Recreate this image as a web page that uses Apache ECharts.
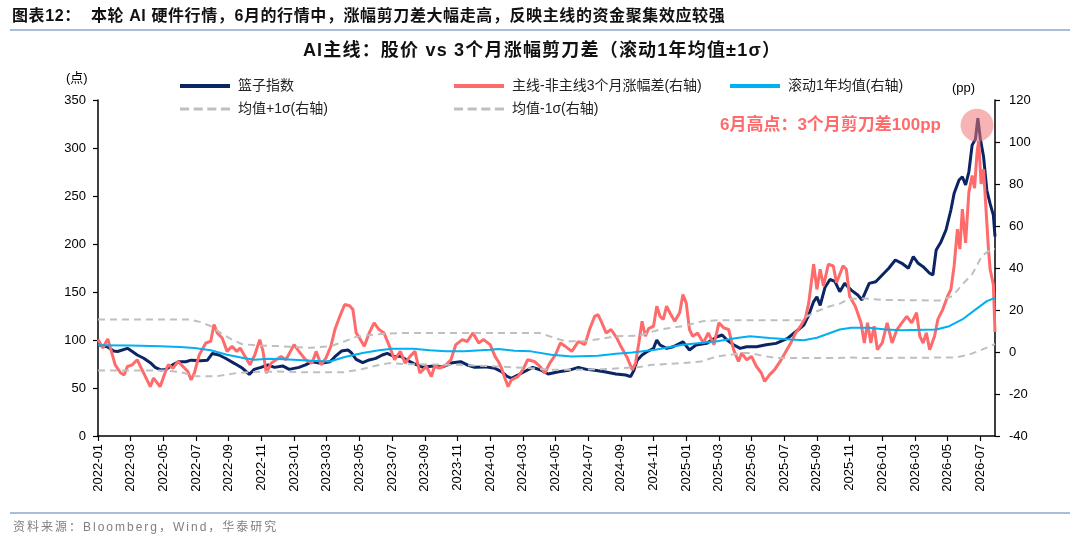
<!DOCTYPE html>
<html lang="zh-CN">
<head>
  <meta charset="UTF-8">
  <title>AI主线：股价 vs 3个月涨幅剪刀差</title>
  <script src="https://cdn.jsdelivr.net/npm/echarts@6/dist/echarts.min.js"></script>
  <style>
    body { margin: 0; padding: 0; background: #fff; }
    #wrap { position: relative; width: 1080px; height: 539px; overflow: hidden;
            font-family: 'Liberation Sans', Arial, 'Noto Sans CJK SC', sans-serif; }
    #chart { position: absolute; left: 0; top: 0; width: 1080px; height: 539px; }
    .head { position: absolute; left: 12px; top: 6px; font-size: 16px; font-weight: bold;
            line-height: 20px; color: #111; letter-spacing: 0.6px; white-space: nowrap; }
    .ctitle { position: absolute; left: 0; width: 1084px; top: 39px; text-align: center;
              font-size: 18px; font-weight: bold; line-height: 22px; color: #111;
              letter-spacing: 1.2px; white-space: nowrap; }
    .rule { position: absolute; left: 10px; width: 1060px; height: 2px; background: #a9bdd8; }
    .foot { position: absolute; left: 13px; top: 519px; font-size: 12px; line-height: 16px;
            color: #808080; letter-spacing: 2px; white-space: nowrap; }
  </style>
</head>
<body>
<div id="wrap">
  <div id="chart"></div>
  <div class="head">图表12：&nbsp;&nbsp;本轮 AI 硬件行情，6月的行情中，涨幅剪刀差大幅走高，反映主线的资金聚集效应较强</div>
  <div class="rule" style="top:29px"></div>
  <div class="ctitle">AI主线：股价 vs 3个月涨幅剪刀差（滚动1年均值±1σ）</div>
  <div class="rule" style="top:512px"></div>
  <div class="foot">资料来源：Bloomberg，Wind，华泰研究</div>
</div>
<script>
  const FONT = "'Liberation Sans', Arial, 'Noto Sans CJK SC', sans-serif";

  // x 轴刻度（每两个月一个），x 值为自 2022-01 起的月数
  const monthTicks = [
    '2022-01', '2022-03', '2022-05', '2022-07', '2022-09', '2022-11',
    '2023-01', '2023-03', '2023-05', '2023-07', '2023-09', '2023-11',
    '2024-01', '2024-03', '2024-05', '2024-07', '2024-09', '2024-11',
    '2025-01', '2025-03', '2025-05', '2025-07', '2025-09', '2025-11',
    '2026-01', '2026-03', '2026-05', '2026-07'
  ];

  // 篮子指数（左轴，点）
  const basket = [
    [0, 95], [0.57, 93], [0.96, 88.5], [1.2, 88], [1.8, 91.3], [2.1, 88], [2.4, 84.4], [2.8, 81],
    [3.2, 76.4], [3.5, 71.5], [3.84, 68.8], [4.15, 69.4], [4.56, 74], [4.96, 77.4], [5.37, 77.4],
    [5.7, 79], [6.3, 78.5], [6.7, 79], [7.0, 86], [7.4, 84.4], [7.8, 81], [8.34, 75.7], [8.85, 70.5],
    [9.26, 64.2], [9.56, 69.4], [9.97, 71.5], [10.4, 74], [10.8, 71.5], [11.3, 73], [11.7, 69.4],
    [12.3, 71.5], [12.7, 74], [13.1, 77.4], [13.65, 75.7], [14.2, 77.4], [14.5, 82.6], [14.9, 88.5],
    [15.3, 89.6], [15.5, 86.8], [15.8, 79.9], [16.2, 76.4], [16.6, 79.2], [17.0, 80.9], [17.4, 84.4],
    [17.7, 86.1], [18.15, 82.6], [18.5, 83.3], [18.9, 79.2], [19.3, 75.7], [19.9, 71.5], [20.5, 72.9],
    [21.1, 72], [21.7, 76.4], [22.2, 77.4], [22.6, 74], [23.05, 71.5], [23.7, 72], [24.3, 70.5],
    [24.7, 67], [25.0, 62.5], [25.3, 60], [25.7, 63.5], [26.2, 68], [26.6, 71.5], [27.05, 69],
    [27.55, 64.6], [28.2, 67], [28.8, 68.4], [29.4, 71.5], [29.9, 69.4], [30.4, 68.4], [31.0, 67],
    [31.7, 64.6], [32.3, 63.5], [32.6, 61.8], [32.8, 68.4], [33.0, 79], [33.3, 84.4], [33.6, 87.8],
    [34.0, 91.3], [34.2, 100], [34.4, 94.8], [34.8, 91.3], [35.2, 93], [35.8, 98.2], [36.2, 89.6],
    [36.6, 94.8], [37.25, 96.5], [37.9, 103.4], [38.2, 105.2], [38.5, 100], [38.9, 95], [39.3, 91.3],
    [39.7, 93], [40.3, 93], [40.9, 95], [41.5, 96.5], [42.2, 101.7], [42.7, 108.6], [43.2, 115.6],
    [43.5, 126], [43.8, 140], [44.0, 145], [44.2, 136], [44.5, 155], [44.8, 163], [45.1, 161],
    [45.4, 150.3], [45.7, 159], [46.1, 152], [46.5, 146.9], [46.76, 141.7], [47.2, 159], [47.6, 160.7],
    [48.0, 167.7], [48.4, 174.7], [48.8, 183.3], [49.2, 179.9], [49.6, 174.7], [49.9, 186.8],
    [50.2, 179.9], [50.5, 176.4], [50.9, 169.5], [51.1, 167.7], [51.3, 193.8], [51.6, 202.4],
    [51.9, 214.6], [52.2, 235.4], [52.4, 252.8], [52.7, 266.7], [52.9, 270], [53.1, 261.5],
    [53.3, 275], [53.5, 303], [53.7, 309], [53.85, 331], [54.0, 310], [54.2, 291], [54.4, 256],
    [54.6, 242], [54.8, 230], [54.9, 207.6]
  ];

  // 主线-非主线3个月涨幅差（右轴，pp）
  const spread = [
    [0, 5.9], [0.3, 1.9], [0.5, 4.9], [0.6, 6.2], [0.85, -0.5], [1.05, -6.1], [1.39, -10], [1.6, -10.9],
    [1.8, -6.9], [2.1, -6.1], [2.4, -3.7], [2.7, -8.5], [3.0, -13.3], [3.2, -16.5], [3.4, -12.4],
    [3.8, -16.5], [4.1, -10], [4.3, -6.1], [4.6, -7.7], [4.9, -4.5], [5.2, -6.9], [5.5, -9.3],
    [5.7, -13.3], [5.9, -10], [6.2, -1.3], [6.6, 4.3], [6.9, 5.1], [7.1, 13.1], [7.3, 9.1], [7.6, 6.7],
    [7.9, 0.3], [8.2, 2.7], [8.5, 0.3], [8.7, 1.9], [9.0, -2.1], [9.3, -6.1], [9.6, -1.3], [9.9, 5.9],
    [10.1, 0.3], [10.3, -10], [10.6, -5.3], [10.9, -3.7], [11.2, -2.1], [11.5, -3.7], [12.0, 3.5],
    [12.3, 0.3], [12.7, -3.7], [13.1, -5.3], [13.35, 0.3], [13.65, -6.1], [13.95, -2.9], [14.25, 2.7],
    [14.5, 10.7], [14.8, 17], [15.1, 22.6], [15.4, 22], [15.6, 20.2], [15.8, 9.1], [16.0, 6.7],
    [16.3, 2.7], [16.6, 9.1], [16.9, 13.9], [17.2, 10.7], [17.5, 9.1], [17.8, 3.5], [18.15, -3.7],
    [18.5, 0.3], [18.8, -5.3], [19.1, -2.1], [19.4, 0.3], [19.7, -10], [20.1, -6.9], [20.4, -11.7],
    [20.6, -6.9], [20.9, -7.7], [21.3, -6.1], [21.6, -3.7], [21.9, 3.5], [22.3, 5.9], [22.6, 5],
    [22.95, 9.1], [23.3, 4.3], [23.6, 5.9], [24.0, 3.5], [24.3, -2.1], [24.5, -4.5], [24.7, -7.7],
    [24.9, -12.4], [25.1, -16.5], [25.3, -13.3], [25.7, -11.7], [26.0, -8.5], [26.3, -3.7], [26.7, -4.5],
    [27.05, -6.9], [27.35, -10], [27.65, -5.3], [28.0, -1.3], [28.3, 4.3], [28.6, 2.7], [29.0, 0.3],
    [29.4, 5], [29.8, 3.5], [30.1, 11.1], [30.4, 17], [30.6, 17.8], [30.8, 14.6], [31.1, 9.1],
    [31.4, 10.7], [31.75, 6.7], [32.0, 2.7], [32.4, -2.9], [32.7, -8.5], [32.9, -5.3], [33.1, 4.3],
    [33.3, 14.6], [33.5, 7.5], [33.7, 11.1], [34.0, 12.3], [34.2, 21.8], [34.4, 17], [34.6, 15.5],
    [34.8, 21.8], [35.0, 18.7], [35.3, 14.6], [35.6, 18.7], [35.8, 27.4], [36.0, 23.4], [36.2, 10.7],
    [36.4, 7.5], [36.7, 9.1], [37.05, 4.3], [37.35, 9.1], [37.7, 3.5], [38.0, 13.9], [38.3, 11.5],
    [38.6, 10.7], [38.9, 1.1], [39.2, -4.5], [39.4, -0.5], [39.7, -3.7], [40.0, -2.1], [40.3, -6.9],
    [40.6, -10], [40.8, -14], [41.1, -10.9], [41.4, -8.5], [41.75, -4.5], [42.05, -0.5], [42.4, 4.3],
    [42.7, 9.1], [43.0, 12.3], [43.3, 16.3], [43.5, 23.4], [43.8, 41.8], [44.0, 29.8], [44.2, 39.4],
    [44.4, 31.4], [44.7, 41.8], [45.0, 41], [45.2, 33], [45.6, 41], [45.8, 39.4], [46.0, 26.6],
    [46.35, 21.8], [46.7, 13.9], [46.9, 4.3], [47.1, 13.9], [47.3, 4.3], [47.5, 12.3], [47.7, 1.1],
    [48.0, 4.3], [48.3, 13.9], [48.6, 4.3], [48.9, 10.7], [49.2, 13.9], [49.5, 17], [49.8, 13.9],
    [50.1, 18.7], [50.3, 7.5], [50.5, 4.3], [50.7, 9.1], [50.9, 1.1], [51.2, 7.5], [51.4, 15.5],
    [51.7, 20.2], [52.0, 26.6], [52.2, 29.8], [52.4, 41], [52.6, 58.5], [52.75, 49], [52.9, 68],
    [53.1, 52], [53.3, 76], [53.5, 84], [53.65, 78], [53.8, 95], [53.9, 100.5], [54.05, 80],
    [54.2, 87], [54.35, 68], [54.5, 49], [54.6, 39.4], [54.8, 32], [54.9, 9.5]
  ];

  // 滚动1年均值（右轴）
  const rollMean = [
    [0, 3.2], [2, 3.1], [3.8, 2.7], [5.0, 2.4], [5.9, 1.9], [6.9, 0.8], [7.9, -1.3], [8.9, -2.9],
    [9.6, -3.7], [10.4, -3.2], [11.4, -3.4], [13.1, -4.2], [14.2, -4.5], [15.1, -2.4], [16.2, -0.5],
    [17.2, 0.8], [18.0, 1.6], [19.3, 1.6], [20.3, 0.8], [21.3, 0.3], [22.4, 0.3], [24.0, 1.1],
    [24.5, 1.4], [25.5, 0.6], [26.5, 0.3], [27.75, -1.3], [29.0, -2.1], [30.6, -1.8], [31.7, -0.8],
    [32.7, -0.2], [34.1, 1.1], [35.8, 3.5], [37.9, 5.1], [39.1, 6.7], [39.9, 7.5], [41.1, 6.7],
    [42.4, 5.9], [43.2, 5.6], [44.0, 6.8], [45.4, 10.7], [46.1, 11.5], [47.2, 11.5], [48.2, 10.7],
    [49.2, 10.4], [51.3, 10.7], [52.1, 12.3], [52.9, 15.5], [53.7, 20.2], [54.4, 24.2], [54.9, 25.8]
  ];

  // 均值+1σ（右轴）
  const upperBand = [
    [0, 15.5], [5.6, 15.5], [6.3, 14.2], [6.9, 12.3], [7.5, 9.1], [8.2, 5.9], [8.8, 3.8], [9.6, 3.2],
    [11, 2.8], [13, 2], [14.2, 2.7], [15.1, 5.1], [15.8, 7.2], [16.8, 8.2], [17.8, 8.8], [19, 9.1],
    [27, 9.1], [27.75, 7.2], [28.6, 5.1], [29.8, 5.1], [30.8, 6.3], [31.7, 7.5], [33.1, 7.8],
    [34.4, 10.7], [35.8, 12.3], [37, 14.6], [37.9, 15.1], [43, 15.1], [43.4, 17], [44.0, 19.4],
    [44.8, 21.8], [45.4, 23], [46, 25.3], [47, 25.5], [48, 24.8], [51.5, 24.5], [52.3, 26.6],
    [52.9, 32.2], [53.5, 37], [54.1, 45.7], [54.6, 48.6], [54.9, 49]
  ];

  // 均值-1σ（右轴）
  const lowerBand = [
    [0, -8.8], [4, -8.8], [5, -9.5], [6, -11.5], [7.3, -11.5], [8.5, -10], [9.6, -9.5], [11, -9.3],
    [13, -9.7], [15, -9.7], [16.2, -8.1], [17, -6.5], [17.8, -5.3], [19, -5.8], [22, -6.1],
    [24.5, -6.9], [26.5, -7.7], [27.75, -8.5], [29.2, -8.5], [31, -8.1], [32, -7.7], [33.1, -7.2],
    [33.9, -6.1], [35.8, -5.3], [36.9, -4.5], [37.9, -2.1], [38.7, -1.3], [39.5, -0.5], [39.9, -0.5],
    [40.7, -1.8], [41.5, -2.9], [45, -2.9], [46, -2.6], [47, -2.9], [52.5, -2.6], [53.3, -1.3],
    [54.1, 1.1], [54.9, 3.8]
  ];

  const chart = echarts.init(document.getElementById('chart'));

  const axisFont = { fontFamily: FONT, fontSize: 13, color: '#000' };

  // 图例图标：实线用矩形，虚线用四段短矩形
  const SOLID_ICON = 'rect';
  const DASH_ICON = 'path://M0,0H8V2H0Z M12,0H20V2H12Z M24,0H32V2H24Z M36,0H44V2H36Z';

  function lineSeries(name, data, color, width, yIdx, dashed) {
    return {
      name: name,
      type: 'line',
      data: data,
      yAxisIndex: yIdx,
      symbol: 'none',
      smooth: false,
      lineStyle: { color: color, width: width, type: dashed ? [7, 5] : 'solid' },
      itemStyle: { color: color }
    };
  }

  function legendAt(name, left, top, dashed) {
    return {
      data: [name], left: left, top: top, padding: 0,
      icon: dashed ? DASH_ICON : SOLID_ICON,
      symbolKeepAspect: false,
      itemWidth: 50, itemHeight: dashed ? 3 : 4,
      textStyle: { fontFamily: FONT, fontSize: 14, color: '#222', padding: [0, 0, 0, 3] }
    };
  }

  const lower = lineSeries('均值-1σ(右轴)', lowerBand, '#bfbfbf', 2, 1, true);
  // 6月高点的粉色圆圈
  lower.markPoint = {
    symbol: 'circle', symbolSize: 33, silent: true, z: 20,
    itemStyle: { color: 'rgba(238, 118, 118, 0.55)' },
    label: { show: false },
    data: [{ coord: [53.8, 108] }]
  };

  const option = {
    animation: false,
    legend: [
      legendAt('篮子指数', 180, 79, false),
      legendAt('主线-非主线3个月涨幅差(右轴)', 454, 79, false),
      legendAt('滚动1年均值(右轴)', 730, 79, false),
      legendAt('均值+1σ(右轴)', 180, 102, true),
      legendAt('均值-1σ(右轴)', 454, 102, true)
    ],
    grid: { left: 98, right: 85, top: 100, bottom: 103 },
    xAxis: {
      type: 'value',
      min: 0,
      max: 54.9,
      interval: 2,
      axisLine: { lineStyle: { color: '#000', width: 1.5 } },
      axisTick: { length: 5, lineStyle: { color: '#000', width: 1.2 } },
      splitLine: { show: false },
      axisLabel: Object.assign({}, axisFont, {
        rotate: 90,
        margin: 8,
        showMaxLabel: false,
        formatter: function (v) {
          const i = Math.round(v / 2);
          return Math.abs(v - i * 2) < 1e-6 && monthTicks[i] ? monthTicks[i] : '';
        }
      })
    },
    yAxis: [
      {
        type: 'value', min: 0, max: 350, interval: 50,
        axisLine: { show: true, lineStyle: { color: '#000', width: 1.5 } },
        axisTick: { show: true, length: 5, lineStyle: { color: '#000', width: 1.2 } },
        splitLine: { show: false },
        axisLabel: Object.assign({}, axisFont, { margin: 12 })
      },
      {
        type: 'value', min: -40, max: 120, interval: 20,
        axisLine: { show: true, lineStyle: { color: '#000', width: 1.5 } },
        axisTick: { show: true, length: 5, lineStyle: { color: '#000', width: 1.2 } },
        splitLine: { show: false },
        axisLabel: Object.assign({}, axisFont, { margin: 14 })
      }
    ],
    graphic: [
      { type: 'text', left: 66, top: 72, style: { text: '(点)', fontFamily: FONT, fontSize: 13, fill: '#000' } },
      { type: 'text', left: 952, top: 82, style: { text: '(pp)', fontFamily: FONT, fontSize: 13, fill: '#000' } },
      {
        type: 'text', right: 139, top: 117,
        style: { text: '6月高点：3个月剪刀差100pp', fontFamily: FONT, fontSize: 17, fontWeight: 'bold', fill: '#ff6b6b' }
      }
    ],
    series: [
      lineSeries('篮子指数', basket, '#0b2463', 3, 0, false),
      lineSeries('主线-非主线3个月涨幅差(右轴)', spread, '#ff6b6b', 3, 1, false),
      lineSeries('滚动1年均值(右轴)', rollMean, '#00b0f0', 2, 1, false),
      lineSeries('均值+1σ(右轴)', upperBand, '#bfbfbf', 2, 1, true),
      lower
    ]
  };

  chart.setOption(option);
</script>
</body>
</html>
